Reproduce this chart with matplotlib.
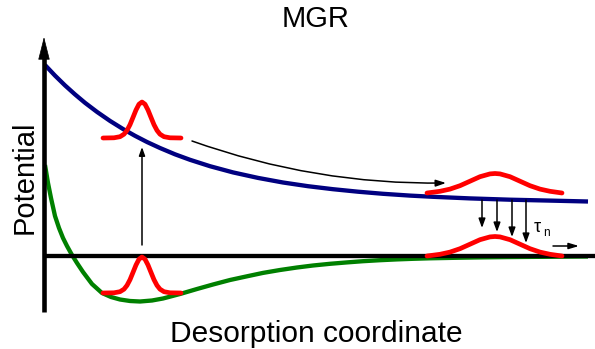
import matplotlib
matplotlib.use("Agg")
import matplotlib.pyplot as plt

plt.rcParams['font.family'] = ['Liberation Sans', 'DejaVu Sans']

# ---- data (schematic, in picture units: x right, y down) ----
title = "MGR"
xlabel = "Desorption coordinate"
ylabel = "Potential"
tau_label = "τ"
tau_sub = "n"

# excited (upper) potential curve
upper_x = [45, 55, 65, 75, 85, 97, 110, 123, 135, 147, 160, 175, 190, 210, 233,
           258, 283, 308, 333, 358, 383, 410, 433, 470, 510, 550, 588]
upper_y = [65, 75.6, 85.4, 94.4, 102.8, 111.9, 120.9, 129, 135.8, 142, 148, 154.3,
           159.8, 166.2, 172.4, 177.9, 182.5, 186.2, 189.2, 191.7, 193.8, 195.6,
           196.8, 198.4, 199.7, 200.6, 201.5]

# ground state (lower) potential curve
ground_x = [45, 48, 51, 55, 59, 63, 67, 72, 77, 83, 92, 102, 111, 120, 130, 140, 152,
            163, 180, 197, 213, 230, 247, 263, 280, 297, 313, 330, 347, 363, 380,
            397, 413, 430, 455, 480, 505, 530, 560, 588]
ground_y = [165, 183, 198, 216, 228, 238, 246, 255, 263, 272, 284, 293, 297, 299.5,
            301, 301.5, 300.5, 298.5, 294, 289, 284.5, 280, 276.3, 272.9, 270.0, 267.5,
            265.5, 263.8, 262.4, 261.2, 260.2, 259.4, 258.8, 258.3, 257.8, 257.4, 257.1,
            256.9, 256.7, 256.5]

# narrow wave packet (offset from centre, height above its base)
narrow_dx = [-39, -28, -22, -18, -15, -12, -9, -6, -3, 0, 3, 6, 9, 12, 15, 18, 22, 28, 39]
narrow_h = [0, 0.2, 1.3, 3.8, 7.6, 13.3, 20.6, 28, 33.8, 36, 33.8, 28, 20.6, 13.3,
            7.6, 3.8, 1.3, 0.2, 0]

# broad wave packet
broad_dx = [-68, -55, -45, -35, -25, -15, -5, 0, 5, 15, 25, 35, 45, 55, 67]
broad_h = [0, 1.7, 3.9, 7.3, 11.8, 16.3, 19.1, 19.5, 19.1, 16.3, 11.8, 7.3, 3.9, 1.7, 0]

# packet centres / bases
packet_cx = [142, 142, 495, 495]
packet_base = [138, 293, 193, 256]
packet_kind = ["narrow", "narrow", "broad", "broad"]

# relaxation arrows (x positions and tip y)
relax_x = [482, 497, 512, 526]
relax_tip = [228, 232, 237, 243]

# ---- drawing ----
fig = plt.figure(figsize=(5.95, 3.49), dpi=100)
ax = fig.add_axes([0, 0, 1, 1])
ax.set_xlim(0, 595)
ax.set_ylim(349, 0)
ax.axis('off')

lw_main = 3.1
ax.plot(ground_x, ground_y, color='#008000', lw=lw_main, solid_capstyle='butt',
        solid_joinstyle='round', zorder=2)
ax.plot([44, 595], [256, 256], color='black', lw=lw_main, solid_capstyle='butt', zorder=3)
ax.plot(upper_x, upper_y, color='#000080', lw=lw_main, solid_capstyle='butt',
        solid_joinstyle='round', zorder=3)

for cx, base, kind in zip(packet_cx, packet_base, packet_kind):
    dx, h = (narrow_dx, narrow_h) if kind == "narrow" else (broad_dx, broad_h)
    ax.plot([cx + d for d in dx], [base - v for v in h], color='red', lw=3.4,
            solid_capstyle='round', solid_joinstyle='round', zorder=5)

# vertical axis with arrow
ax.plot([44, 44], [312, 56], color='black', lw=3.3, solid_capstyle='butt', zorder=4)
ax.annotate('', xy=(44, 37), xytext=(44, 60),
            arrowprops=dict(arrowstyle='-|>,head_length=15,head_width=3.8',
                            mutation_scale=1, lw=0.5, color='black',
                            shrinkA=0, shrinkB=0), zorder=4)

thin = dict(mutation_scale=1, lw=1.1, color='black', shrinkA=0, shrinkB=0)
# excitation arrow
ax.annotate('', xy=(142, 147), xytext=(142, 245),
            arrowprops=dict(arrowstyle='-|>,head_length=5,head_width=1.8', **thin))
# propagation arrow
ax.annotate('', xy=(446, 183), xytext=(192, 141),
            arrowprops=dict(arrowstyle='-|>,head_length=6,head_width=2.0',
                            connectionstyle='arc3,rad=0.09', **thin))
# relaxation arrows
for x, t in zip(relax_x, relax_tip):
    ax.annotate('', xy=(x, t), xytext=(x, 200),
                arrowprops=dict(arrowstyle='-|>,head_length=5.5,head_width=2.0', **thin))
# small desorption arrow
ax.annotate('', xy=(579, 246), xytext=(553, 246),
            arrowprops=dict(arrowstyle='-|>,head_length=6,head_width=1.8', **thin))

# labels
ax.text(534, 232, tau_label, fontsize=13, ha='left', va='baseline', color='black')
ax.text(543.5, 235.5, tau_sub, fontsize=8.5, ha='left', va='baseline', color='black')

ax.text(316, 27, title, fontsize=21, ha='center', va='baseline')
ax.text(316.5, 342, xlabel, fontsize=21.5, ha='center', va='baseline')
ax.text(33, 177, ylabel, fontsize=21, ha='center', va='baseline', rotation=90,
        rotation_mode='anchor')

fig.savefig('out.png', dpi=100)
